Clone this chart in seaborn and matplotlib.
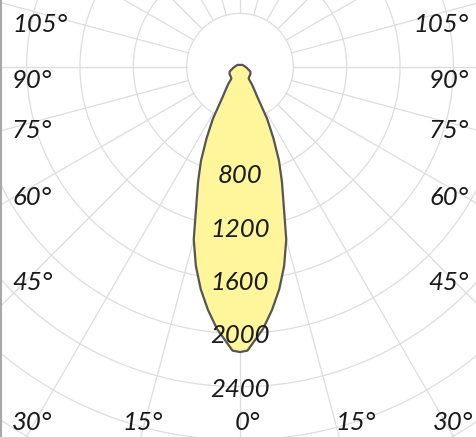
import numpy as np
import pandas as pd
import matplotlib
matplotlib.use('Agg')
from matplotlib import pyplot as plt
from matplotlib import font_manager
import seaborn as sns

# luminous intensity (cd), angle 0 = straight down
angles_deg = [0, 1.5, 3, 5, 7.5, 10, 12.5, 15, 17.5, 20, 22.5, 25, 27.5,
              30, 32, 34, 36, 45, 55, 65, 80, 100, 130, 180]
intensity_cd = [2140, 2130, 2060, 1975, 1840, 1695, 1530, 1340, 1090, 920, 765, 595, 440,
                255, 200, 160, 110, 100, 96, 85, 52, 32, 22, 13]

ring_values = [400, 800, 1200, 1600, 2000, 2400, 2800, 3200]
ring_labels = ['800', '1200', '1600', '2000', '2400']
ray_step = 15

side_labels = ['105°', '90°', '75°', '60°', '45°']
bottom_labels = ['30°', '15°', '0°', '15°', '30°']

sns.set_theme(style='white')
available = {f.name for f in font_manager.fontManager.ttflist}
label_font = 'DejaVu Sans'
label_size = 15
for name, size in [('Liberation Sans Narrow', 20), ('DejaVu Sans Condensed', 17), ('Lato', 18.5)]:
    if name in available:
        label_font, label_size = name, size
        break
plt.rcParams['font.family'] = [label_font, 'DejaVu Sans']

# pixel -> data scale: 400 cd every 53.33 px
px = 7.5
cx, cy = 240, 66.7
W, H = 477, 437

def to_data(x_px, y_px):
    return (x_px - cx) * px, (cy - y_px) * px

fig = plt.figure(figsize=(W / 100, H / 100), dpi=100)
ax = fig.add_axes([0, 0, 1, 1])

grid_color = '#dddddd'
t = np.linspace(0, 2 * np.pi, 400)
for r in ring_values:
    ax.plot(r * np.sin(t), r * np.cos(t), color=grid_color, lw=0.9, zorder=1)
for a in np.arange(0, 360, ray_step):
    th = np.deg2rad(a)
    ax.plot([400 * np.sin(th), 3400 * np.sin(th)], [-400 * np.cos(th), -3400 * np.cos(th)],
            color=grid_color, lw=0.9, zorder=1)

# mirror the half curve to get the full outline
a_half = np.deg2rad(np.array(angles_deg))
i_half = np.array(intensity_cd, dtype=float)
theta = np.concatenate([-a_half[::-1], a_half[1:]])
inten = np.concatenate([i_half[::-1], i_half[1:]])
curve = pd.DataFrame({'x': inten * np.sin(theta), 'y': -inten * np.cos(theta)})

ax.fill(curve['x'], curve['y'], color='#fff59a', zorder=2)
sns.lineplot(data=curve, x='x', y='y', sort=False, estimator=None,
             color='#555555', lw=1.6, ax=ax, zorder=3)
ax.set_xlim((0 - cx) * px, (W - cx) * px)
ax.set_ylim((cy - H) * px, cy * px)
ax.set_axis_off()

text_kw = dict(fontsize=label_size, style='italic', color='#1a1a1a', zorder=4)
for lab in ring_labels:
    v = float(lab)
    ax.text(0, -v - 10 * px, lab, ha='center', va='baseline', **text_kw)

side_base_px = [31.7, 88, 138.5, 205, 290]
for lab, yb in zip(side_labels, side_base_px):
    x0, y0 = to_data(12, yb)
    ax.text(x0, y0, lab, ha='left', va='baseline', **text_kw)
    x1, y1 = to_data(469, yb)
    ax.text(x1, y1, lab, ha='right', va='baseline', **text_kw)

bottom_x_px = [31.5, 142.5, 247.5, 356, 452.5]
for lab, xc in zip(bottom_labels, bottom_x_px):
    x0, y0 = to_data(xc, 430)
    ax.text(x0, y0, lab, ha='center', va='baseline', **text_kw)

ax.axvline((1 - cx) * px, color='#a8a8a8', lw=1.5, zorder=5)

fig.savefig('out.png', dpi=100)
